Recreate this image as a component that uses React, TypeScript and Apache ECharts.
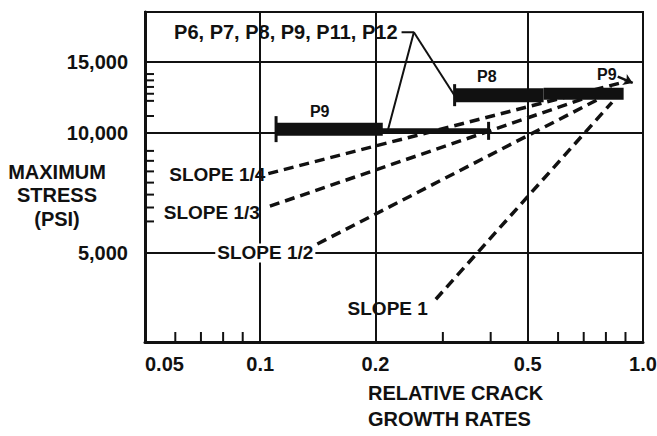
import React, { useEffect, useRef } from 'react';
import * as echarts from 'echarts';

// Axis ticks (log-log chart)
const xTicks = [0.05, 0.1, 0.2, 0.5, 1.0];
const xTickLabels = ['0.05', '0.1', '0.2', '0.5', '1.0'];
const yTicks = [5000, 10000, 15000];
const yTickLabels = ['5,000', '10,000', '15,000'];
const xMinorTicks = [0.06, 0.07, 0.08, 0.09, 0.3, 0.4, 0.6, 0.7, 0.8, 0.9];
const yMinorTicks = [6000, 6500, 7000, 7500, 8000, 8500, 9000, 11000, 12000, 12500, 13000, 13500, 14000];

// Measured crack growth bands: [relative rate, max stress psi]
const p9Left = [[0.11, 10200], [0.209, 10200]];
const p9Extension = [[0.2, 10100], [0.395, 10100]];
const p8Band = [[0.322, 12400], [0.55, 12400]];
const p9Right = [[0.55, 12500], [0.89, 12500]];

// Reference slope lines
const slopeQuarter = [[0.105, 7900], [0.9, 13400]];
const slopeThird = [[0.106, 6550], [0.86, 13000]];
const slopeHalf = [[0.141, 5270], [0.835, 12650]];
const slopeOne = [[0.2876, 3836], [0.83, 11900]];

// Leader lines from the specimen list
const leaderLeft = [[0.234, 17800], [0.252, 17800], [0.215, 10050]];
const leaderRight = [[0.252, 17800], [0.324, 12250]];
const p9Arrow = [[0.859, 13800], [0.94, 13300]];

// Band labels: [x, y, text]
const bandLabels: [number, number, string][] = [
  [0.143, 11300, 'P9'],
  [0.391, 13800, 'P8'],
  [0.804, 13960, 'P9'],
];
const specimenList = 'P6, P7, P8, P9, P11, P12';

const FONT = '"Liberation Sans", Arial, sans-serif';
const INK = '#111111';

function nearestLabel(v: number, ticks: number[], labels: string[]) {
  let best = 0;
  let bestD = Infinity;
  ticks.forEach((t, i) => {
    const d = Math.abs(Math.log10(v) - Math.log10(t));
    if (d < bestD) {
      bestD = d;
      best = i;
    }
  });
  return labels[best];
}

function bandSeries(data: number[][], width: number, tickIdx: number[], tickLen: number) {
  return {
    type: 'line',
    data: data.map((p, i) =>
      tickIdx.includes(i)
        ? { value: p, symbol: 'rect', symbolSize: [3, tickLen] }
        : { value: p, symbol: 'none' }
    ),
    symbol: 'none',
    lineStyle: { color: INK, width, cap: 'butt' },
    itemStyle: { color: INK, borderWidth: 0, opacity: 1 },
    silent: true,
    z: 4,
  };
}

function slopeSeries(data: number[][]) {
  return {
    type: 'line',
    data,
    symbol: 'none',
    lineStyle: { color: INK, width: 3.5, type: [10, 6] },
    silent: true,
    z: 3,
  };
}

function textItem(pos: number[], text: string, position: string, extra: any = {}) {
  return {
    value: pos,
    label: {
      show: true,
      formatter: text,
      position,
      fontFamily: FONT,
      fontWeight: 'bold',
      fontSize: 19,
      color: INK,
      opacity: 1,
      ...extra,
    },
  };
}

export default function App() {
  const ref = useRef<HTMLDivElement>(null);

  useEffect(() => {
    if (!ref.current) return;
    const chart = echarts.init(ref.current, undefined, { renderer: 'svg' });

    const labelFont = { fontFamily: FONT, fontWeight: 'bold', fontSize: 20, color: INK };

    chart.setOption({
      animation: false,
      backgroundColor: '#ffffff',
      grid: {
        left: 145,
        right: 14,
        top: 12,
        bottom: 94,
        show: true,
        borderColor: INK,
        borderWidth: 2,
        outerBoundsMode: 'none',
      },
      xAxis: {
        type: 'log',
        logBase: 10,
        min: 0.05,
        max: 1.0,
        axisLine: { show: true, lineStyle: { color: INK, width: 3 } },
        axisTick: { show: false, customValues: xTicks },
        axisLabel: {
          ...labelFont,
          customValues: xTicks,
          margin: 12,
          alignMinLabel: 'left',
          formatter: (v: number) => nearestLabel(v, xTicks, xTickLabels),
        },
        splitLine: { show: true, lineStyle: { color: INK, width: 2 } },
        minorTick: { show: false },
        minorSplitLine: { show: false },
      },
      yAxis: {
        type: 'log',
        logBase: 10,
        min: 3000,
        max: 20000,
        axisLine: { show: true, lineStyle: { color: INK, width: 3 } },
        axisTick: { show: false, customValues: yTicks },
        axisLabel: {
          ...labelFont,
          customValues: yTicks,
          margin: 17,
          formatter: (v: number) => nearestLabel(v, yTicks, yTickLabels),
        },
        splitLine: { show: true, lineStyle: { color: INK, width: 2 } },
        minorTick: { show: false },
        minorSplitLine: { show: false },
      },
      graphic: [
        {
          type: 'text',
          x: 57,
          y: 195,
          style: {
            text: 'MAXIMUM\nSTRESS\n(PSI)',
            align: 'center',
            verticalAlign: 'middle',
            lineHeight: 23.5,
            fontFamily: FONT,
            fontWeight: 'bold',
            fontSize: 20,
            fill: INK,
          },
        },
        {
          type: 'text',
          x: 368,
          y: 406,
          style: {
            text: 'RELATIVE CRACK\nGROWTH RATES',
            align: 'left',
            verticalAlign: 'middle',
            lineHeight: 26.5,
            fontFamily: FONT,
            fontWeight: 'bold',
            fontSize: 20,
            fill: INK,
          },
        },
      ],
      series: [
        // minor ticks along the bottom axis
        {
          type: 'scatter',
          data: xMinorTicks.map((x) => [x, 3000]),
          symbol: 'rect',
          symbolSize: [2, 10],
          symbolOffset: [0, -5],
          itemStyle: { color: INK, opacity: 1 },
          clip: false,
          silent: true,
          z: 2,
        },
        // minor ticks along the left axis
        {
          type: 'scatter',
          data: yMinorTicks.map((y) => [0.05, y]),
          symbol: 'rect',
          symbolSize: [9, 2],
          symbolOffset: [4.5, 0],
          itemStyle: { color: INK, opacity: 1 },
          clip: false,
          silent: true,
          z: 2,
        },
        slopeSeries(slopeQuarter),
        slopeSeries(slopeThird),
        slopeSeries(slopeHalf),
        slopeSeries(slopeOne),
        bandSeries(p9Left, 13, [0], 26),
        bandSeries(p9Extension, 5, [1], 18),
        bandSeries(p8Band, 14, [0], 22),
        bandSeries(p9Right, 12, [], 0),
        {
          type: 'line',
          data: leaderLeft,
          symbol: 'none',
          lineStyle: { color: INK, width: 2 },
          silent: true,
          z: 4,
        },
        {
          type: 'line',
          data: leaderRight,
          symbol: 'none',
          lineStyle: { color: INK, width: 2 },
          silent: true,
          z: 4,
        },
        {
          type: 'lines',
          coordinateSystem: 'cartesian2d',
          data: [{ coords: p9Arrow }],
          symbol: ['none', 'arrow'],
          symbolSize: 9,
          lineStyle: { color: INK, width: 2.5, opacity: 1 },
          silent: true,
          z: 4,
        },
        // text annotations
        {
          type: 'scatter',
          symbolSize: 0,
          clip: false,
          silent: true,
          itemStyle: { opacity: 1 },
          z: 6,
          data: [
            textItem(leaderLeft[0], specimenList, 'left', { fontSize: 20, distance: 4 }),
            textItem(slopeQuarter[0], 'SLOPE 1/4', 'left', { distance: 3, offset: [0, 1] }),
            textItem(slopeThird[0], 'SLOPE 1/3', 'left', { distance: 10, offset: [0, 6] }),
            textItem(slopeHalf[0], 'SLOPE 1/2', 'left', {
              distance: 2,
              offset: [0, 9],
              backgroundColor: '#ffffff',
              padding: [0, 2],
            }),
            textItem(slopeOne[0], 'SLOPE 1', 'left', { distance: 8, offset: [0, 9] }),
            ...bandLabels.map((b) => textItem([b[0], b[1]], b[2], 'inside', { fontSize: 16 })),
          ],
        },
      ],
    });

    return () => chart.dispose();
  }, []);

  return (
    <div
      ref={ref}
      style={{ position: 'fixed', left: 0, top: 0, width: 657, height: 436, background: '#fff' }}
    />
  );
}
